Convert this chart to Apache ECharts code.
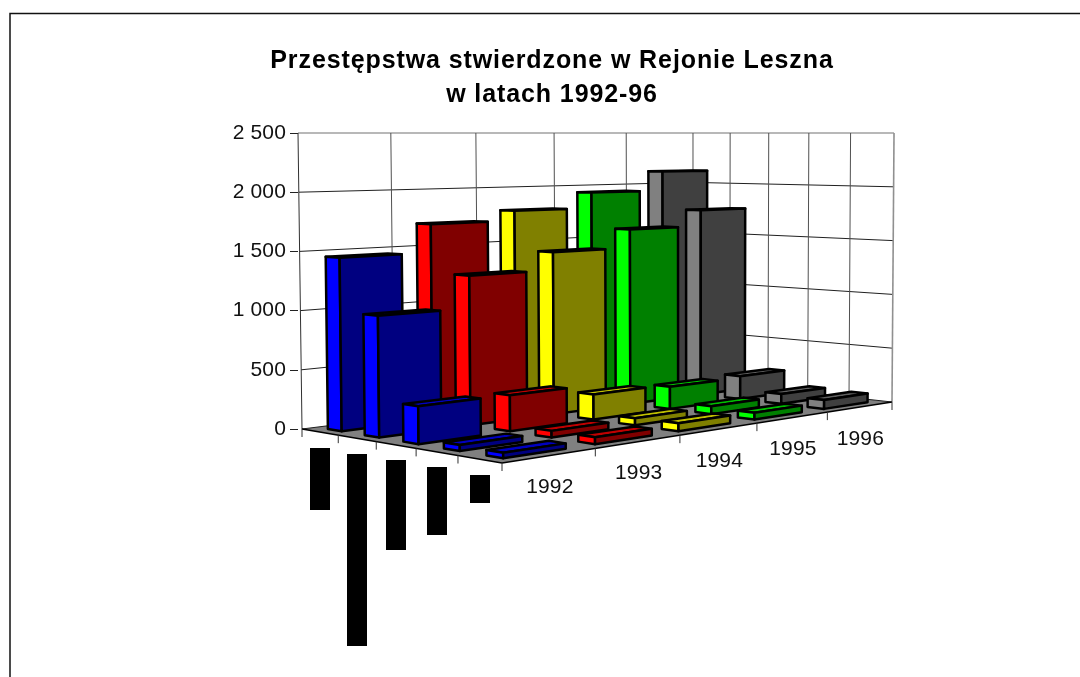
<!DOCTYPE html>
<html><head><meta charset="utf-8">
<style>html,body{margin:0;padding:0;background:#fff}#c{width:1080px;height:677px}</style>
<script src="https://cdn.jsdelivr.net/npm/echarts@6/dist/echarts.min.js"></script>
</head><body><div id="c"></div>
<script>
const titleLines = ['Przestępstwa stwierdzone w Rejonie Leszna', 'w latach 1992-96'];
const years = ['1992', '1993', '1994', '1995', '1996'];
const valueTicks = [0, 500, 1000, 1500, 2000, 2500];
const row1 = [1455, 1705, 1795, 1940, 2125];
const row2 = [1000, 1280, 1440, 1610, 1760];
const row3 = [305, 302, 219, 200, 215];
const row4 = [47, 55, 60, 70, 90];
const row5 = [42, 55, 67, 60, 80];
const rows = [row1, row2, row3, row4, row5];
const hiddenRowLabelLengths = [62, 192, 90, 68, 28];
const sideColors = ['#0000ff', '#ff0000', '#ffff00', '#00ff00', '#808080'];
const frontColors = ['#000080', '#800000', '#808000', '#008000', '#404040'];
const topColors = ['#0000c0', '#c00000', '#c0c000', '#00c000', '#606060'];

// the source picture sets its text slightly tracked; canvas letterSpacing reproduces it
const nativeFillText = CanvasRenderingContext2D.prototype.fillText;
CanvasRenderingContext2D.prototype.fillText = function (text, x, y, w) {
  this.letterSpacing = /bold/.test(this.font) ? '0.9px' : '0.15px';
  if (w === undefined) nativeFillText.call(this, text, x, y); else nativeFillText.call(this, text, x, y, w);
  this.letterSpacing = '0px';
};

// floor corners of the 3-D box on the page
const L = [302, 429], F = [502, 463], R = [892, 402], B = [693, 380];
const horizonY = 133, vanishX = 694, tilt = 0.0102;
const gridTop = 133, gridHeight = 296;

// homography of the unit square: (a,r) -> floor, a = along years, r = along rows
const H = (function () {
  const [x0, y0] = L, [x1, y1] = B, [x2, y2] = R, [x3, y3] = F;
  const dx1 = x1 - x2, dx2 = x3 - x2, sx = x0 - x1 + x2 - x3;
  const dy1 = y1 - y2, dy2 = y3 - y2, sy = y0 - y1 + y2 - y3;
  const d = dx1 * dy2 - dx2 * dy1;
  const g = (sx * dy2 - dx2 * sy) / d, h = (dx1 * sy - sx * dy1) / d;
  return { a: x1 - x0 + g * x1, b: x3 - x0 + h * x3, c: x0, d: y1 - y0 + g * y1, e: y3 - y0 + h * y3, f: y0, g, h };
})();
function project(a, r, t) {
  const w = H.g * a + H.h * r + 1;
  const x0 = (H.a * a + H.b * r + H.c) / w, y0 = (H.d * a + H.e * r + H.f) / w;
  return [x0 + (x0 - vanishX) * tilt * t, y0 + (horizonY - y0) * t];
}
const line = (p, q, color, width) => ({ type: 'line', shape: { x1: p[0], y1: p[1], x2: q[0], y2: q[1] }, style: { stroke: color, lineWidth: width }, silent: true });
const poly = (pts, fill, stroke, width) => ({ type: 'polygon', shape: { points: pts }, style: { fill, stroke, lineWidth: width, lineJoin: 'round' }, silent: true });
const N = years.length, M = rows.length;
const gapA0 = 0.155, gapA1 = 0.825, gapR = 0.31;

function tOf(api, v) { return (gridTop + gridHeight - api.coord([0, v])[1]) / gridHeight; }

function renderFrame(params, api) {
  const c = [];
  // floor
  c.push(poly([project(0, 0, 0), project(1, 0, 0), project(1, 1, 0), project(0, 1, 0)], '#808080', 'none', 0));
  // value lines on both walls
  valueTicks.forEach(v => {
    const t = tOf(api, v);
    const col = v === valueTicks[valueTicks.length - 1] ? '#a0a0a0' : '#202020';
    const w = v === valueTicks[valueTicks.length - 1] ? 1.6 : 1;
    c.push(line(project(0, 0, t), project(1, 0, t), col, w));
    c.push(line(project(1, 0, t), project(1, 1, t), col, w));
  });
  // vertical wall lines
  for (let i = 0; i <= N; i++) c.push(line(project(i / N, 0, 0), project(i / N, 0, 1), i === 0 ? '#303030' : '#505050', 1));
  for (let j = 1; j <= M; j++) c.push(line(project(1, j / M, 0), project(1, j / M, 1), j === M ? '#909090' : '#505050', j === M ? 1.6 : 1));
  // floor edges and ticks
  c.push(line(project(0, 0, 0), project(0, 1, 0), '#000', 1.4));
  c.push(line(project(0, 1, 0), project(1, 1, 0), '#000', 1.4));
  for (let j = 0; j <= M; j++) { const p = project(0, j / M, 0); c.push(line(p, [p[0], p[1] + 8], '#303030', 1)); }
  for (let i = 1; i <= N; i++) { const p = project(i / N, 1, 0); c.push(line(p, [p[0], p[1] + 8], '#303030', 1)); }
  // year labels
  years.forEach((y, i) => {
    const p = project((i + 0.5) / N, 1, 0);
    c.push({ type: 'text', style: { text: y, x: p[0], y: p[1] + 32, align: 'center', verticalAlign: 'middle', font: '21px "Liberation Sans"', fill: '#111' }, silent: true });
  });
  // row labels are blacked out in the source picture
  hiddenRowLabelLengths.forEach((len, j) => {
    const p = project(0, (j + 0.5) / M, 0);
    c.push({ type: 'rect', shape: { x: Math.round(p[0] - 10), y: Math.floor(p[1] + 16), width: 20, height: len }, style: { fill: '#000' }, silent: true });
  });
  return { type: 'group', children: c };
}
function renderBar(params, api) {
  const i = api.value(0), j = api.value(1), t = tOf(api, api.value(2));
  const a0 = (i + gapA0) / N, a1 = (i + gapA1) / N, r0 = (j + gapR) / M, r1 = (j + 1 - gapR) / M;
  return { type: 'group', children: [
    poly([project(a0, r0, t), project(a1, r0, t), project(a1, r1, t), project(a0, r1, t)], topColors[i], '#000', 2.5),
    poly([project(a0, r0, 0), project(a0, r1, 0), project(a0, r1, t), project(a0, r0, t)], sideColors[i], '#000', 2.5),
    poly([project(a0, r1, 0), project(a1, r1, 0), project(a1, r1, t), project(a0, r1, t)], frontColors[i], '#000', 2.5)
  ] };
}
// back rows first, far years first, so nearer bars paint over farther ones
const barData = [];
rows.forEach((row, j) => { for (let i = N - 1; i >= 0; i--) barData.push([i, j, row[i]]); });

const chart = echarts.init(document.getElementById('c'), null, { renderer: 'canvas' });
chart.setOption({
  animation: false,
  backgroundColor: '#fff',
  title: { text: titleLines.join('\n'), left: 547, top: 39, textAlign: 'center',
    textStyle: { fontFamily: 'Liberation Sans', fontWeight: 'bold', fontSize: 25, lineHeight: 34, color: '#000' } },
  graphic: [{ type: 'rect', shape: { x: 10, y: 13.5, width: 2000, height: 1000 }, style: { fill: 'none', stroke: '#111', lineWidth: 1.5 }, silent: true }],
  grid: { left: 298, top: gridTop, width: 596, height: gridHeight },
  xAxis: { type: 'value', min: 0, max: 1, show: false },
  yAxis: { type: 'value', min: 0, max: 2500, interval: 500,
    axisLine: { show: false }, splitLine: { show: false },
    axisTick: { show: true, length: 8, lineStyle: { color: '#222', width: 1 } },
    axisLabel: { margin: 12, fontFamily: 'Liberation Sans', fontSize: 21, color: '#111',
      formatter: v => String(v).replace(/\B(?=(\d{3})+$)/, ' ') } },
  series: [
    { type: 'custom', clip: false, silent: true, z: 2, renderItem: renderFrame, data: [[0, 0]], encode: { x: 0, y: 1 } },
    { type: 'custom', clip: false, silent: true, z: 3, renderItem: renderBar, data: barData, encode: { x: 0, y: 2 } }
  ]
});
</script></body></html>
